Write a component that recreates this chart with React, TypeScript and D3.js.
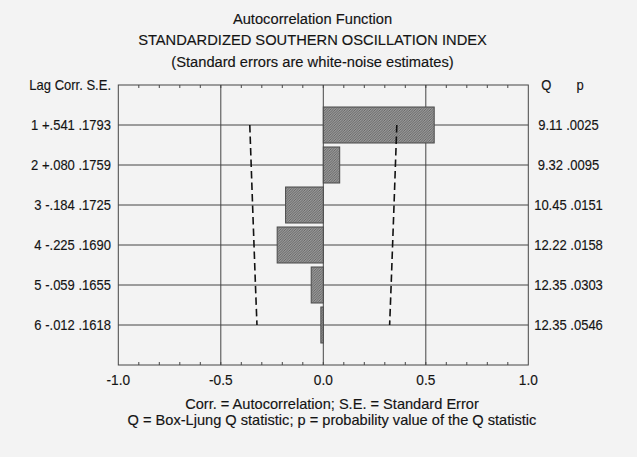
import React from "react";
import * as d3 from "d3";

const lags = [1, 2, 3, 4, 5, 6];
const corr = [0.541, 0.08, -0.184, -0.225, -0.059, -0.012];
const stdErr = [0.1793, 0.1759, 0.1725, 0.169, 0.1655, 0.1618];
const qStat = [9.11, 9.32, 10.45, 12.22, 12.35, 12.35];
const pValue = [0.0025, 0.0095, 0.0151, 0.0158, 0.0303, 0.0546];
const xTicks = [-1, -0.5, 0, 0.5, 1];
const minorTicks = d3.range(-0.9, 1.0, 0.1).map((v) => Math.round(v * 10) / 10);
const titleLines = [
  "Autocorrelation Function",
  "STANDARDIZED SOUTHERN OSCILLATION INDEX",
  "(Standard errors are white-noise estimates)",
];
const footerLines = [
  "Corr. = Autocorrelation; S.E. = Standard Error",
  "Q = Box-Ljung Q statistic; p = probability value of the Q statistic",
];

const W = 637;
const H = 457;
const box = { left: 118.3, right: 528.3, top: 85, bottom: 365 };
const FONT = "'Liberation Sans', Arial, Helvetica, sans-serif";
const BG = "#f3f3f3";
const INK = "#141414";
const GRID = "#454545";

const hy = (s: string) => s.replace(/\u2212/g, "-");
const noZero = (s: string) => hy(s).replace("0.", ".");
const fmtCorr = (v: number) => noZero(d3.format("+.3f")(v));
const fmtSE = (v: number) => noZero(d3.format(".4f")(v));
const fmtQ = (v: number) => hy(d3.format(".2f")(v));
const fmtP = (v: number) => noZero(d3.format(".4f")(v));
const fmtX = (v: number) => hy(d3.format(".1f")(v));

type LabelProps = {
  x: number;
  y: number;
  size: number;
  sx?: number;
  anchor?: "start" | "middle" | "end";
  children: React.ReactNode;
};

function Label({ x, y, size, sx = 1, anchor = "middle", children }: LabelProps) {
  return (
    <text
      transform={`translate(${x},${y}) scale(${sx},1)`}
      textAnchor={anchor}
      fontSize={size}
      fill={INK}
      stroke={INK}
      strokeWidth={0.15}
    >
      {children}
    </text>
  );
}

export default function App() {
  const x = d3.scaleLinear().domain([-1, 1]).range([box.left, box.right]);
  const y = d3.scaleLinear().domain([0, 7]).range([box.top, box.bottom]);
  const step = y(1) - y(0);
  const barH = step * 0.9;

  const upper = d3
    .line<number>()
    .x((_, i) => x(2 * stdErr[i]))
    .y((_, i) => y(lags[i]));
  const lower = d3
    .line<number>()
    .x((_, i) => x(-2 * stdErr[i]))
    .y((_, i) => y(lags[i]));

  const smallSize = 14;
  const smallSx = 0.93;
  const smallBase = 5;

  return (
    <svg
      width={W}
      height={H}
      style={{ position: "absolute", left: 0, top: 0, fontFamily: FONT }}
    >
      <defs>
        <pattern id="hatch" width="2.5" height="2.5" patternUnits="userSpaceOnUse">
          <rect width="2.5" height="2.5" fill="#b0b0b0" />
          <path
            d="M0,2.5 L2.5,0 M-1,1 L1,-1 M1.5,3.5 L3.5,1.5"
            stroke="#5a5a5a"
            strokeWidth="0.9"
          />
        </pattern>
      </defs>
      <rect width={W} height={H} fill={BG} />

      {titleLines.map((t, i) => (
        <Label key={t} x={312.5} y={23.5 + i * 21.8} size={14.7}>
          {t}
        </Label>
      ))}

      {/* horizontal gridlines */}
      {lags.map((l) => (
        <line
          key={"h" + l}
          x1={box.left}
          x2={box.right}
          y1={y(l)}
          y2={y(l)}
          stroke={GRID}
          strokeWidth={1}
        />
      ))}
      {/* vertical gridlines */}
      {[-0.5, 0, 0.5].map((v) => (
        <line
          key={"v" + v}
          x1={x(v)}
          x2={x(v)}
          y1={box.top}
          y2={box.bottom}
          stroke={GRID}
          strokeWidth={1}
        />
      ))}

      {/* bars */}
      {corr.map((c, i) => (
        <rect
          key={"b" + i}
          x={Math.min(x(0), x(c))}
          y={y(lags[i]) - barH / 2}
          width={Math.abs(x(c) - x(0))}
          height={barH}
          fill="url(#hatch)"
          stroke="#4a4a4a"
          strokeWidth={1}
        />
      ))}

      {/* confidence limits */}
      <path d={upper(lags) || ""} fill="none" stroke="#111" strokeWidth={1.6} strokeDasharray="7.5,4" />
      <path d={lower(lags) || ""} fill="none" stroke="#111" strokeWidth={1.6} strokeDasharray="7.5,4" />

      {/* minor ticks */}
      {minorTicks.map((v) => (
        <g key={"t" + v}>
          <line x1={x(v)} x2={x(v)} y1={box.top} y2={box.top + 3} stroke={GRID} />
          <line x1={x(v)} x2={x(v)} y1={box.bottom} y2={box.bottom - 3} stroke={GRID} />
        </g>
      ))}

      {/* frame */}
      <rect
        x={box.left}
        y={box.top}
        width={box.right - box.left}
        height={box.bottom - box.top}
        fill="none"
        stroke={GRID}
        strokeWidth={1}
      />

      {/* left header and labels */}
      <Label x={111} y={box.top + smallBase} size={smallSize} sx={smallSx} anchor="end">
        Lag Corr. S.E.
      </Label>
      {lags.map((l, i) => (
        <Label
          key={"ll" + l}
          x={111}
          y={y(l) + smallBase}
          size={smallSize}
          sx={smallSx}
          anchor="end"
        >
          {`${l} ${fmtCorr(corr[i])} ${fmtSE(stdErr[i])}`}
        </Label>
      ))}

      {/* right header and labels */}
      <Label x={546.3} y={box.top + smallBase} size={smallSize} sx={smallSx}>
        Q
      </Label>
      <Label x={580} y={box.top + smallBase} size={smallSize} sx={smallSx}>
        p
      </Label>
      {lags.map((l, i) => (
        <Label
          key={"rl" + l}
          x={568.5}
          y={y(l) + smallBase}
          size={smallSize}
          sx={smallSx}
        >
          {`${fmtQ(qStat[i])} ${fmtP(pValue[i])}`}
        </Label>
      ))}

      {/* x axis labels */}
      {xTicks.map((v) => (
        <Label key={"x" + v} x={x(v)} y={384.5} size={14.4} sx={0.95}>
          {fmtX(v)}
        </Label>
      ))}

      {footerLines.map((t, i) => (
        <Label key={t} x={332} y={408.5 + i * 16.8} size={14.6}>
          {t}
        </Label>
      ))}
    </svg>
  );
}
